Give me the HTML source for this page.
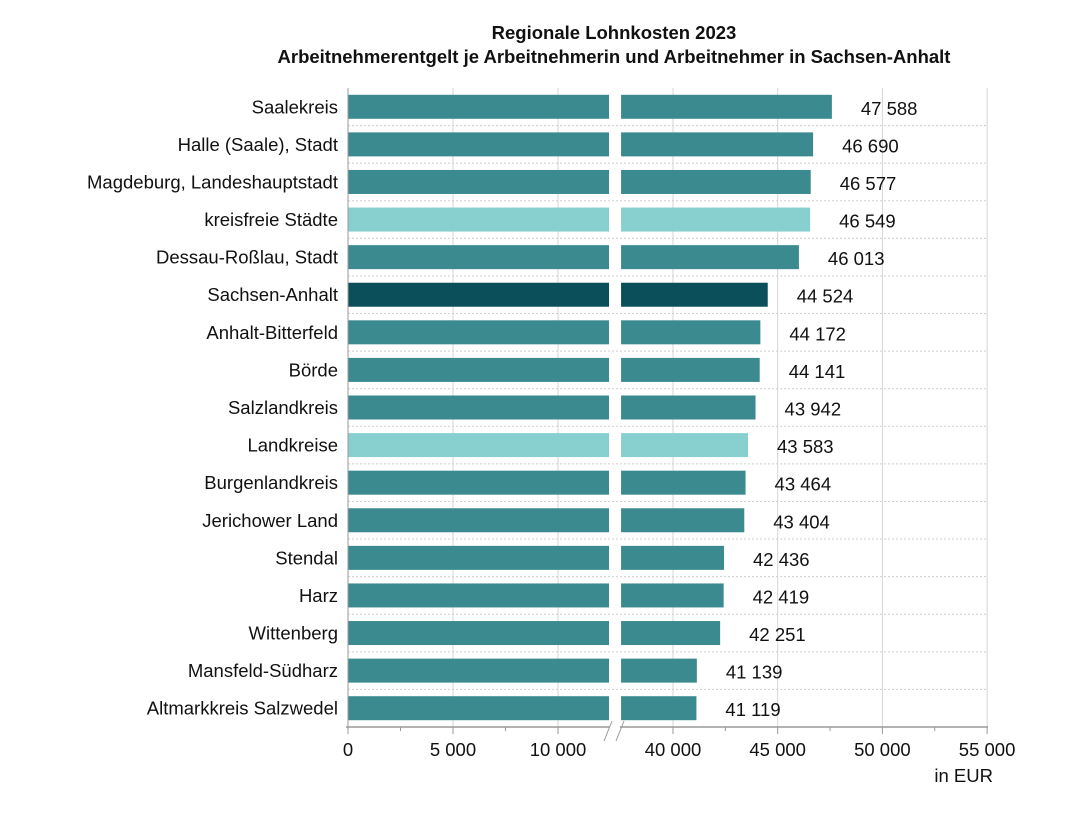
<!DOCTYPE html>
<html><head><meta charset="utf-8"><style>
body{margin:0;background:#fff;}
svg text{font-family:"Liberation Sans",Arial,sans-serif;}
</style></head><body>
<svg width="1080" height="811" viewBox="0 0 1080 811">
<text x="614" y="39" font-size="18.5" font-weight="bold" text-anchor="middle" fill="#111">Regionale Lohnkosten 2023</text>
<text x="614" y="63" font-size="18.5" font-weight="bold" text-anchor="middle" fill="#111">Arbeitnehmerentgelt je Arbeitnehmerin und Arbeitnehmer in Sachsen-Anhalt</text>
<g id="grid"></g><g id="bars"></g><g id="axis"></g>
</svg>
<script>
const categories=["Saalekreis","Halle (Saale), Stadt","Magdeburg, Landeshauptstadt","kreisfreie Städte","Dessau-Roßlau, Stadt","Sachsen-Anhalt","Anhalt-Bitterfeld","Börde","Salzlandkreis","Landkreise","Burgenlandkreis","Jerichower Land","Stendal","Harz","Wittenberg","Mansfeld-Südharz","Altmarkkreis Salzwedel"];
const values=[47588,46690,46577,46549,46013,44524,44172,44141,43942,43583,43464,43404,42436,42419,42251,41139,41119];
const kinds=["n","n","n","l","n","d","n","n","n","l","n","n","n","n","n","n","n"];
const leftTicks=[0,5000,10000];
const rightTicks=[40000,45000,50000,55000];
const NS="http://www.w3.org/2000/svg";
const colors={n:"#3b8a90",l:"#88cfcf",d:"#0b4f5a"};
const x0=348,leftScale=105/5000,rx0=673,rightScale=104.7/5000;
const breakLow=12430,breakHigh=37520;
function xs(v){return v<=breakLow? x0+v*leftScale : rx0+(v-40000)*rightScale;}
const plotTop=88,axisY=727,step=(axisY-plotTop)/17,barH=24;
function yc(i){return plotTop+step*(i+0.5);}
function el(t,a,p){const e=document.createElementNS(NS,t);for(const k in a)e.setAttribute(k,a[k]);p.appendChild(e);return e;}
const grid=document.getElementById('grid'),bars=document.getElementById('bars'),axis=document.getElementById('axis');
[...leftTicks.slice(1),...rightTicks].forEach(t=>{
  const l=el('line',{x1:xs(t),x2:xs(t),y1:plotTop,y2:axisY,stroke:'#d6d6d6','stroke-width':1},grid);
  
  
});
for(let i=1;i<categories.length;i++){
  const l=el('line',{x1:x0,x2:988,y1:plotTop+step*i,y2:plotTop+step*i,stroke:'#cfcfcf','stroke-dasharray':'2,2'},grid);
  
  
}
categories.forEach((c,i)=>{
  const y=yc(i)-barH/2,col=colors[kinds[i]];
  const b1=el('rect',{x:x0,y:y,width:xs(breakLow)-x0,height:barH,fill:col},bars);
  
  
  const b2=el('rect',{x:xs(breakHigh),y:y,width:xs(values[i])-xs(breakHigh),height:barH,fill:col},bars);
  
  
  const lab=el('text',{x:338,y:yc(i)+6.5,'font-size':18.5,'text-anchor':'end',fill:'#111'},bars);
  lab.textContent=c;
  
  
  const v=el('text',{x:xs(values[i])+29,y:yc(i)+8,'font-size':18.5,fill:'#111'},bars);
  v.textContent=values[i].toLocaleString('en').replace(',',' ');
  
  
});
const ax=el('line',{x1:x0-2,x2:988,y1:axisY,y2:axisY,stroke:'#999','stroke-width':1.5},axis);


const yax=el('line',{x1:x0,x2:x0,y1:plotTop,y2:axisY,stroke:'#999','stroke-width':1},axis);


[...leftTicks,...rightTicks].forEach(t=>{
  el('line',{x1:xs(t),x2:xs(t),y1:axisY,y2:axisY+7,stroke:'#999'},axis);
  const tl=el('text',{x:xs(t),y:axisY+29,'font-size':18.5,'text-anchor':'middle',fill:'#111'},axis);
  tl.textContent=t===0?'0':t.toLocaleString('en').replace(',',' ');
  
  
});
[2500,7500,42500,47500,52500].forEach(t=>el('line',{x1:xs(t),x2:xs(t),y1:axisY,y2:axisY+4,stroke:'#999'},axis));
el('rect',{x:610,y:axisY-3,width:10,height:6,fill:'#fff'},axis);
el('line',{x1:604,x2:612,y1:axisY+14,y2:axisY-6,stroke:'#999'},axis);
el('line',{x1:616,x2:624,y1:axisY+14,y2:axisY-6,stroke:'#999'},axis);
const unit=el('text',{x:993,y:782,'font-size':18.5,'text-anchor':'end',fill:'#111'},axis);
unit.textContent='in EUR';


</script>
</body></html>
